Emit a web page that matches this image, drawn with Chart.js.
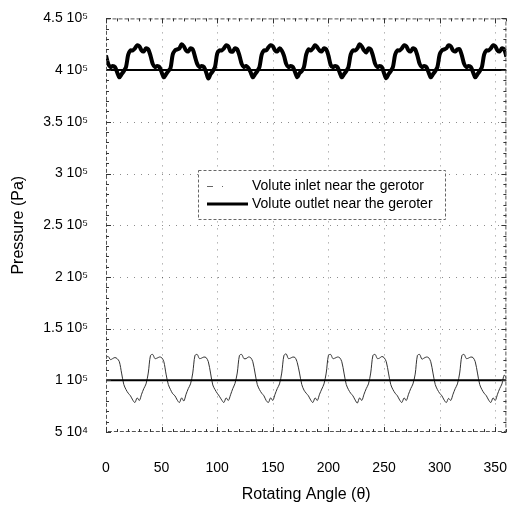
<!DOCTYPE html>
<html><head><meta charset="utf-8">
<script src="https://cdn.jsdelivr.net/npm/chart.js@4/dist/chart.umd.min.js"></script>
<style>html,body{margin:0;padding:0;background:#fff}canvas{display:block}</style>
</head><body>
<canvas id="c" width="527" height="508"></canvas>
<script>
// Rotating angle samples (degrees)
const angles = [0,2,4,6,8,10,12,14,16,18,20,22,24,26,28,30,32,34,36,38,
40,42,44,46,48,50,52,54,56,58,60,62,64,66,68,70,72,74,76,78,
80,82,84,86,88,90,92,94,96,98,100,102,104,106,108,110,112,114,116,118,
120,122,124,126,128,130,132,134,136,138,140,142,144,146,148,150,152,154,156,158,
160,162,164,166,168,170,172,174,176,178,180,182,184,186,188,190,192,194,196,198,
200,202,204,206,208,210,212,214,216,218,220,222,224,226,228,230,232,234,236,238,
240,242,244,246,248,250,252,254,256,258,260,262,264,266,268,270,272,274,276,278,
280,282,284,286,288,290,292,294,296,298,300,302,304,306,308,310,312,314,316,318,
320,322,324,326,328,330,332,334,336,338,340,342,344,346,348,350,352,354,356,358,360];

// Volute outlet pressure, in units of 1e5 Pa
const outletE5 = [4.14,4.06,4.03,4.04,4.03,3.98,
3.93,3.96,3.99,4.03,4.15,4.19,4.19,4.21,4.24,4.23,4.19,4.18,4.21,4.20,4.14,4.06,4.03,4.04,4.03,3.98,
3.93,3.96,3.99,4.02,4.15,4.19,4.20,4.21,4.25,4.23,4.19,4.18,4.21,4.20,4.13,4.06,4.03,4.04,4.03,3.98,
3.92,3.96,3.99,4.03,4.16,4.19,4.19,4.21,4.24,4.23,4.18,4.18,4.21,4.20,4.14,4.06,4.03,4.04,4.02,3.98,
3.93,3.96,3.99,4.03,4.15,4.19,4.19,4.22,4.24,4.23,4.19,4.18,4.21,4.19,4.14,4.06,4.03,4.04,4.03,3.98,
3.93,3.97,3.99,4.03,4.15,4.20,4.19,4.21,4.24,4.22,4.19,4.18,4.21,4.20,4.14,4.05,4.03,4.04,4.03,3.98,
3.93,3.96,3.99,4.03,4.15,4.19,4.19,4.21,4.25,4.23,4.19,4.17,4.21,4.20,4.14,4.06,4.03,4.04,4.03,3.97,
3.92,3.96,3.99,4.03,4.15,4.19,4.19,4.21,4.24,4.23,4.19,4.18,4.21,4.20,4.14,4.06,4.03,4.04,4.03,3.98,
3.93,3.96,3.99,4.03,4.15,4.19,4.20,4.21,4.24,4.23,4.19,4.18,4.20,4.20,4.14,4.06,4.03,4.04,4.03,3.98,
3.93,3.96,3.99,4.03,4.15,4.19,4.19,4.21,4.24,4.23,4.19,4.18,4.21,4.20,4.13];

// Volute inlet pressure, in units of 1e5 Pa
const inletE5 = [
1.22,1.23,1.20,1.21,1.22,1.21,1.18,1.07,0.96,0.91,0.875,0.85,0.81,0.785,0.83,0.805,0.865,0.92,0.965,1.07,
1.24,1.25,1.21,1.215,1.225,1.22,1.18,1.06,0.96,0.91,0.87,0.85,0.81,0.785,0.83,0.80,0.865,0.92,0.965,1.07,
1.24,1.25,1.21,1.215,1.225,1.22,1.18,1.07,0.955,0.91,0.875,0.845,0.81,0.785,0.83,0.805,0.86,0.92,0.97,1.07,
1.24,1.25,1.21,1.21,1.225,1.22,1.18,1.07,0.96,0.91,0.875,0.85,0.805,0.785,0.83,0.805,0.865,0.92,0.965,1.07,
1.24,1.255,1.21,1.215,1.225,1.22,1.17,1.07,0.96,0.905,0.875,0.85,0.81,0.785,0.83,0.805,0.865,0.915,0.965,1.07,
1.24,1.25,1.21,1.215,1.225,1.22,1.18,1.07,0.96,0.91,0.875,0.85,0.81,0.78,0.83,0.805,0.865,0.92,0.965,1.07,
1.24,1.25,1.21,1.215,1.23,1.22,1.18,1.07,0.96,0.91,0.875,0.85,0.81,0.785,0.83,0.805,0.865,0.92,0.965,1.06,
1.24,1.25,1.205,1.215,1.225,1.22,1.18,1.07,0.96,0.91,0.875,0.85,0.81,0.785,0.825,0.805,0.865,0.92,0.965,1.07,
1.24,1.25,1.21,1.215,1.225,1.22,1.18,1.07,0.96,0.91,0.875,0.85,0.81,0.785,0.83,0.805,0.865,0.92,0.965,1.05,
1.02];

// Mean levels (Pa) drawn as horizontal lines
const refLevels = [100000, 400000];
const refRange = [0, 360];

const seriesLabels = ['Volute inlet near the gerotor', 'Volute outlet near the geroter'];

const xTicks = [0,50,100,150,200,250,300,350];
const xTickLabels = ['0','50','100','150','200','250','300','350'];
const yTicks = [50000,100000,150000,200000,250000,300000,350000,400000,450000];
const yTickLabels = ['5 10\u2074','1 10\u2075','1.5 10\u2075','2 10\u2075','2.5 10\u2075','3 10\u2075','3.5 10\u2075','4 10\u2075','4.5 10\u2075'];

const FONT = "'Liberation Sans', Arial, Helvetica, sans-serif";
const E5 = 100000;

const toXY = (arr) => angles.map((a, i) => ({x: a, y: arr[i] * E5}));

const gridPlugin = {
  id: 'dottedGrid',
  beforeDatasetsDraw(chart) {
    const {ctx, chartArea: a, scales: {x, y}} = chart;
    ctx.save();
    ctx.strokeStyle = 'rgba(0,0,0,0.45)';
    ctx.lineWidth = 1;
    ctx.setLineDash([1, 6]);
    ctx.beginPath();
    for (const v of xTicks) {
      if (v === x.min) continue;
      const px = Math.round(x.getPixelForValue(v)) + 0.5;
      ctx.moveTo(px, a.top); ctx.lineTo(px, a.bottom);
    }
    for (const v of yTicks) {
      if (v === y.min || v === y.max) continue;
      const py = Math.round(y.getPixelForValue(v)) + 0.5;
      ctx.moveTo(a.left, py); ctx.lineTo(a.right, py);
    }
    ctx.stroke();
    ctx.restore();
  }
};

const framePlugin = {
  id: 'frame',
  afterDatasetsDraw(chart) {
    const {ctx, chartArea: a, scales: {x, y}} = chart;
    ctx.save();
    // box
    ctx.strokeStyle = '#555';
    ctx.lineWidth = 1;
    ctx.setLineDash([4, 2]);
    ctx.strokeRect(a.left + 0.5, a.top + 0.5, a.right - a.left - 1, a.bottom - a.top - 1);
    ctx.setLineDash([]);
    // ticks (major + minor) on all four sides
    ctx.strokeStyle = '#333';
    ctx.beginPath();
    for (let v = x.min; v <= x.max; v += 10) {
      const px = Math.round(x.getPixelForValue(v)) + 0.5;
      const L = v % 50 === 0 ? 5 : 3;
      ctx.moveTo(px, a.bottom); ctx.lineTo(px, a.bottom - L);
      ctx.moveTo(px, a.top); ctx.lineTo(px, a.top + L);
    }
    for (let v = y.min; v <= y.max; v += 10000) {
      const py = Math.round(y.getPixelForValue(v)) + 0.5;
      const L = v % 50000 === 0 ? 5 : 3;
      ctx.moveTo(a.left, py); ctx.lineTo(a.left + L, py);
      ctx.moveTo(a.right, py); ctx.lineTo(a.right - L, py);
    }
    ctx.stroke();

    // legend
    const lx = 198, ly = 170, lw = 247, lh = 49;
    ctx.fillStyle = '#fff';
    ctx.fillRect(lx, ly, lw, lh);
    ctx.strokeStyle = '#666';
    ctx.setLineDash([3, 2]);
    ctx.strokeRect(lx + 0.5, ly + 0.5, lw, lh);
    ctx.setLineDash([]);
    const rows = [186, 204];
    // inlet sample
    ctx.strokeStyle = '#666';
    ctx.lineWidth = 1;
    ctx.setLineDash([6, 9, 1, 30]);
    ctx.beginPath(); ctx.moveTo(207, rows[0] + 0.5); ctx.lineTo(247, rows[0] + 0.5); ctx.stroke();
    ctx.setLineDash([]);
    // outlet sample
    ctx.strokeStyle = '#000';
    ctx.lineWidth = 3;
    ctx.beginPath(); ctx.moveTo(207, rows[1]); ctx.lineTo(248, rows[1]); ctx.stroke();
    ctx.fillStyle = '#000';
    ctx.font = '14px ' + FONT;
    ctx.textBaseline = 'middle';
    ctx.textAlign = 'left';
    ctx.fillText(seriesLabels[0], 252, rows[0]);
    ctx.fillText(seriesLabels[1], 252, rows[1]);
    ctx.restore();
  }
};

new Chart(document.getElementById('c'), {
  type: 'line',
  data: {
    datasets: [
      {label: 'ref-in', data: refRange.map(v => ({x: v, y: refLevels[0]})), borderColor: '#000', borderWidth: 2, pointRadius: 0},
      {label: 'ref-out', data: refRange.map(v => ({x: v, y: refLevels[1]})), borderColor: '#000', borderWidth: 2, pointRadius: 0},
      {label: seriesLabels[0], data: toXY(inletE5), borderColor: '#333', borderWidth: 1, pointRadius: 0, tension: 0.3},
      {label: seriesLabels[1], data: toXY(outletE5), borderColor: '#000', borderWidth: 4, pointRadius: 0, tension: 0.3, borderJoinStyle: 'round'}
    ]
  },
  options: {
    responsive: false,
    animation: false,
    devicePixelRatio: 1,
    layout: {padding: {top: 13, right: 2, left: 0, bottom: 0}},
    plugins: {legend: {display: false}, tooltip: {enabled: false}},
    scales: {
      x: {
        type: 'linear', min: 0, max: 360,
        afterFit: s => { s.height = 76; },
        afterBuildTicks: s => { s.ticks = xTicks.map(v => ({value: v})); },
        border: {display: false},
        grid: {display: false},
        ticks: {padding: 20, autoSkip: false, maxRotation: 0, color: '#000', font: {family: FONT, size: 14},
          callback: (v) => { const i = xTicks.indexOf(v); return i >= 0 ? xTickLabels[i] : ''; }},
        title: {display: true, text: 'Rotating Angle (\u03B8)', color: '#000', font: {family: FONT, size: 16}, padding: {top: 0, bottom: 4}}
      },
      y: {
        type: 'linear', min: 50000, max: 450000,
        afterFit: s => { s.width = 106; },
        afterBuildTicks: s => { s.ticks = yTicks.map(v => ({value: v})); },
        border: {display: false},
        grid: {display: false},
        ticks: {padding: 10, autoSkip: false, color: '#000', font: {family: FONT, size: 14},
          callback: (v) => { const i = yTicks.indexOf(v); return i >= 0 ? yTickLabels[i] : ''; }},
        title: {display: true, text: 'Pressure (Pa)', color: '#000', font: {family: FONT, size: 16}, padding: {top: 9, bottom: 0}}
      }
    }
  },
  plugins: [gridPlugin, framePlugin]
});
</script>
</body></html>
